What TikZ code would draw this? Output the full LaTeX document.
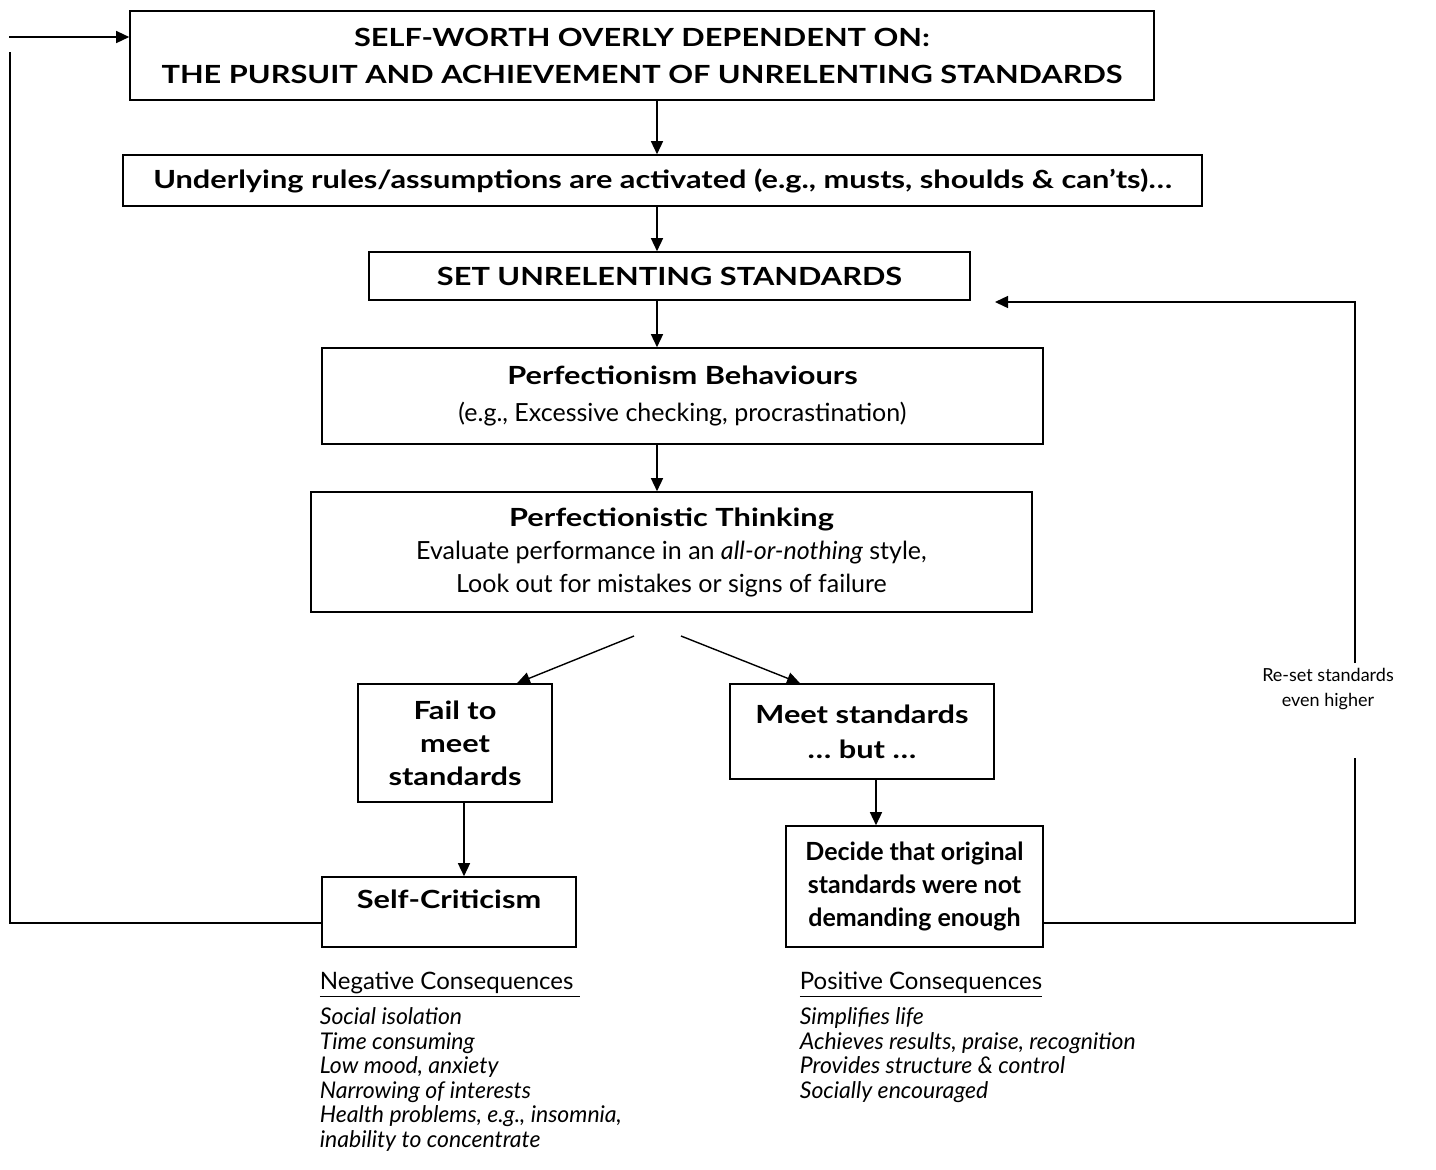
\documentclass[tikz,border=0pt]{standalone}
\usepackage{fontspec}
\setmainfont{Lato}[BoldFeatures={FakeStretch=1.23}]
\newfontfamily\plainfont{Lato}
\usepackage{tikz}
\usetikzlibrary{arrows.meta}

\tikzset{
  box/.style={draw, line width=0.8pt, align=center, inner sep=0pt,
    font=\fontsize{12.5}{16.5}\selectfont\bfseries},
  arr/.style={line width=0.7pt, -{Triangle[length=6.5pt,width=6pt]}},
  loopline/.style={line width=0.7pt},
  note/.style={align=center, inner sep=0.75pt, font=\fontsize{9}{12.5}\selectfont},
  conseq/.style={align=left, inner sep=0.75pt, anchor=north west,
    font=\fontsize{11.5}{12.25}\selectfont}
}

\begin{document}
\begin{tikzpicture}[x=0.5pt,y=-0.5pt]
\useasboundingbox (0,0) rectangle (1436,1169);

%Shape: Rectangle
\node[box, minimum width=512pt, minimum height=44.5pt] (worth) at (642,55.5)
  {SELF-WORTH OVERLY DEPENDENT ON:\\[2pt] THE PURSUIT AND ACHIEVEMENT OF UNRELENTING STANDARDS};
%Shape: Rectangle
\node[box, minimum width=539.5pt, minimum height=25.5pt] (rules) at (662.5,180.5)
  {Underlying rules/assumptions are activated (e.g., musts, shoulds \& can’ts)…};
%Shape: Rectangle
\node[box, minimum width=300.5pt, minimum height=24pt] (set) at (669.5,276)
  {SET UNRELENTING STANDARDS};
%Shape: Rectangle
\node[box, minimum width=360.5pt, minimum height=48pt] (behav) at (682.5,396)
  {Perfectionism Behaviours\\[2pt] \normalfont(e.g., Excessive checking, procrastination)};
%Shape: Rectangle
\node[box, minimum width=360.5pt, minimum height=60pt] (think) at (671.5,552)
  {Perfectionistic Thinking\\ \normalfont Evaluate performance in an \textit{all-or-nothing} style,\\
   \normalfont Look out for mistakes or signs of failure};
%Shape: Rectangle
\node[box, minimum width=97pt, minimum height=59pt] (fail) at (455,743)
  {Fail to\\ meet\\ standards};
%Shape: Rectangle
\node[box, minimum width=132pt, minimum height=47.5pt] (meet) at (862,731.5)
  {Meet standards\\[1pt] … but …};
%Shape: Rectangle
\node[box, minimum width=127pt, text height=15.5pt, text depth=19.5pt] (crit) at (449,912)
  {Self-Criticism};
%Shape: Rectangle
\node[box, minimum width=128.5pt, minimum height=60.5pt,
  font=\fontsize{12.5}{16.5}\selectfont\plainfont\bfseries] (decide) at (914.5,886.5)
  {Decide that original\\ standards were not\\ demanding enough};

% Text Node
\node[note] (reset) at (1328,689) {Re-set standards\\even higher};
% Text Node
\node[conseq] (neg) at (318,970) {\fontsize{12}{12.25}\selectfont\underline{Negative Consequences\ }\\[4pt]
  \textit{Social isolation}\\ \textit{Time consuming}\\ \textit{Low mood, anxiety}\\
  \textit{Narrowing of interests}\\ \textit{Health problems, e.g., insomnia,}\\
  \textit{inability to concentrate}};
% Text Node
\node[conseq] (pos) at (798,970) {\fontsize{12}{12.25}\selectfont\underline{Positive Consequences}\\[4pt]
  \textit{Simplifies life}\\ \textit{Achieves results, praise, recognition}\\
  \textit{Provides structure \& control}\\ \textit{Socially encouraged}};

%Straight Lines
\coordinate (spine) at (657,0);
\draw[arr] (worth.south -| spine) -- (rules.north -| spine);
\draw[arr] (rules.south -| spine) -- (set.north -| spine);
\draw[arr] (set.south -| spine) -- (behav.north -| spine);
\draw[arr] (behav.south -| spine) -- (think.north -| spine);

%Straight Lines
\coordinate (forkL) at (634,636);
\coordinate (forkR) at (681,636);
\coordinate (failtip) at (517,0);
\coordinate (meettip) at (800,0);
\draw[arr] (forkL) -- (failtip |- fail.north);
\draw[arr] (forkR) -- (meettip |- meet.north);

%Straight Lines
\coordinate (fspine) at (464,0);
\coordinate (mspine) at (876,0);
\draw[arr] (fail.south -| fspine) -- (crit.north -| fspine);
\draw[arr] (meet.south -| mspine) -- (decide.north -| mspine);

%Straight Lines
\coordinate (lloop) at (10,923);
\coordinate (ltop) at (10,52);
\coordinate (lin) at (9,37);
\draw[loopline] (crit.west |- lloop) -- (lloop) -- (ltop);
\draw[arr] (lin) -- (worth.west |- lin);

%Straight Lines
\coordinate (rloop) at (1355,923);
\coordinate (rgapb) at (1355,758);
\coordinate (rgapt) at (1355,663);
\coordinate (rtop) at (1355,302);
\coordinate (rtip) at (995,302);
\draw[loopline] (decide.east |- rloop) -- (rloop) -- (rgapb);
\draw[arr] (rgapt) -- (rtop) -- (rtip);

\end{tikzpicture}
\end{document}
